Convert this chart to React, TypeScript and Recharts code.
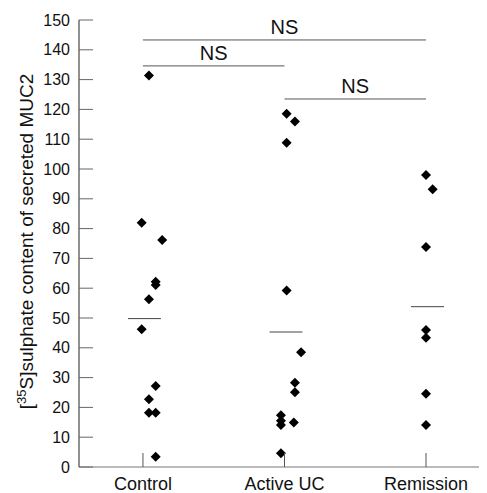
import { ScatterChart, Scatter, XAxis, YAxis, ReferenceLine, Label } from 'recharts';

// group labels and their positions on the x axis
const groups = ['Control', 'Active UC', 'Remission'];
const groupPos = [1, 2, 3];

// [35S]sulphate content per sample, with the small horizontal jitter used in the plot
const controlValues = [131.4, 82.0, 76.2, 62.2, 61.1, 56.3, 46.2, 27.2, 22.7, 18.2, 18.2, 3.4];
const controlX = [1.042, 0.991, 1.136, 1.09, 1.09, 1.042, 0.991, 1.09, 1.042, 1.042, 1.09, 1.09];

const activeValues = [118.5, 115.9, 108.8, 59.2, 38.5, 28.3, 25.1, 17.4, 15.5, 14.1, 14.9, 4.6];
const activeX = [2.015, 2.074, 2.015, 2.015, 2.117, 2.074, 2.074, 1.975, 1.975, 1.975, 2.066, 1.975];

const remissionValues = [98.0, 93.2, 73.8, 46.0, 43.4, 24.6, 14.1];
const remissionX = [3.0, 3.047, 3.0, 3.0, 3.0, 3.0, 3.0];

// group means (horizontal bars)
const means = [49.8, 45.3, 53.8];

// NS comparison brackets: [from group, to group, level]
const brackets: [number, number, number][] = [
  [1, 3, 143.3],
  [1, 2, 134.6],
  [2, 3, 123.5],
];

const yTicks = [0, 10, 20, 30, 40, 50, 60, 70, 80, 90, 100, 110, 120, 130, 140, 150];

const font = '"Liberation Sans", Arial, sans-serif';

const toPoints = (xs: number[], ys: number[]) => ys.map((y, i) => ({ x: xs[i], y }));

const Diamond = (props: any) => {
  const { cx, cy } = props;
  const r = 5;
  return <path d={`M${cx},${cy - r}L${cx + r},${cy}L${cx},${cy + r}L${cx - r},${cy}Z`} fill="#000" />;
};

const XTick = (props: any) => {
  const { x, y, payload } = props;
  const axisY = y - 10;
  const idx = groupPos.indexOf(payload.value);
  return (
    <g>
      <line x1={x} x2={x} y1={axisY} y2={axisY - 14} stroke="#555" />
      <text x={x} y={y} dy="0.71em" textAnchor="middle" fontSize={18} fontFamily={font} fill="#111">
        {groups[idx]}
      </text>
    </g>
  );
};

const YTick = (props: any) => {
  const { x, y, payload } = props;
  const axisX = x + 9;
  return (
    <g>
      <line x1={axisX} x2={axisX + 14} y1={y} y2={y} stroke="#666" />
      <text x={x} y={y} dy="0.355em" textAnchor="end" fontSize={16} fontFamily={font} fill="#111">
        {payload.value}
      </text>
    </g>
  );
};

const YLabel = (props: any) => {
  const { viewBox } = props;
  const cx = 25;
  const cy = viewBox.y + viewBox.height / 2 - 2;
  return (
    <text
      x={cx}
      y={cy}
      transform={`rotate(-90, ${cx}, ${cy})`}
      textAnchor="middle"
      fontFamily={font}
      fontSize={19}
      fill="#111"
    >
      <tspan>[</tspan>
      <tspan fontSize={13} dy={-7}>35</tspan>
      <tspan dy={7}>S]sulphate content of secreted MUC2</tspan>
    </text>
  );
};

export default function App() {
  return (
    <ScatterChart width={479} height={485} margin={{ top: 12, right: 0, bottom: 0, left: 0 }}>
      <XAxis
        type="number"
        dataKey="x"
        domain={[0.548, 3.431]}
        allowDataOverflow
        ticks={groupPos}
        tick={<XTick />}
        tickLine={false}
        tickSize={0}
        tickMargin={10}
        height={26}
        stroke="#777"
      />
      <YAxis
        type="number"
        dataKey="y"
        domain={[0, 150]}
        ticks={yTicks}
        tick={<YTick />}
        tickLine={false}
        tickSize={0}
        tickMargin={9}
        width={71}
        stroke="#222"
        interval={0}
      >
        <Label content={<YLabel />} />
      </YAxis>
      {groupPos.map((g, i) => (
        <ReferenceLine
          key={'m' + i}
          segment={[{ x: g - 0.106, y: means[i] }, { x: g + 0.127, y: means[i] }]}
          stroke="#444"
          strokeWidth={1}
        />
      ))}
      {brackets.map(([a, b, level], i) => (
        <ReferenceLine
          key={'b' + i}
          segment={[{ x: a, y: level }, { x: b, y: level }]}
          stroke="#555"
          strokeWidth={1}
        >
          <Label value="NS" position="top" offset={6} fontSize={20} fontFamily={font} fill="#111" />
        </ReferenceLine>
      ))}
      <Scatter data={toPoints(controlX, controlValues)} shape={<Diamond />} isAnimationActive={false} />
      <Scatter data={toPoints(activeX, activeValues)} shape={<Diamond />} isAnimationActive={false} />
      <Scatter data={toPoints(remissionX, remissionValues)} shape={<Diamond />} isAnimationActive={false} />
    </ScatterChart>
  );
}
